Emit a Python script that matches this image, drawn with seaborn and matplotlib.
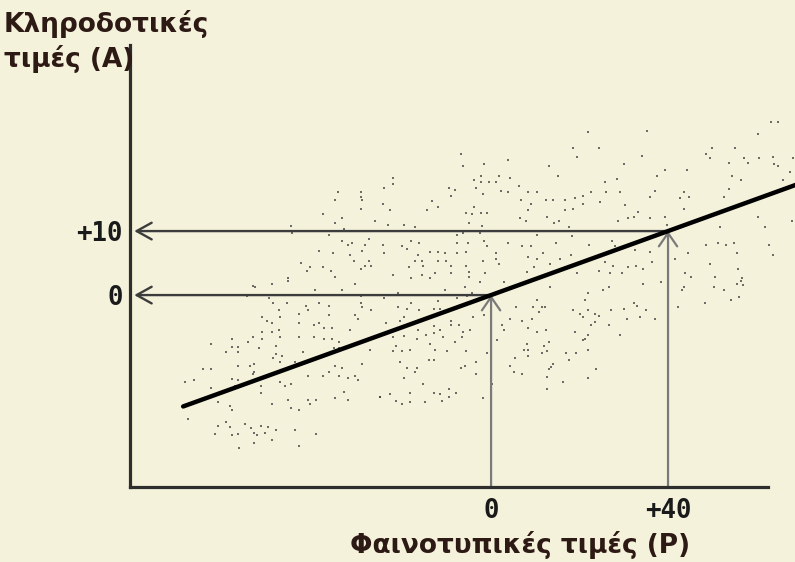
import matplotlib
matplotlib.use("Agg")
import matplotlib.pyplot as plt
import seaborn as sns
import pandas as pd

# Individuals: phenotypic value P, breeding (additive) value A
upper_left = [
    (-34.7, 16.1), (-29.5, 16.1), (-29.5, 15.4), (-35.3, 14.9), (-29.1, 14.8),
    (-29.5, 13.5), (-38.0, 12.6), (-33.8, 12.1), (-35.3, 11.3), (-26.2, 11.6),
    (-45.2, 10.8), (-44.9, 9.7), (-33.3, 10.3), (-36.6, 9.4), (-33.8, 8.4),
    (-32.4, 7.9), (-31.5, 8.1), (-27.6, 8.8), (-28.6, 7.9), (-39.0, 6.9),
    (-35.7, 6.5), (-31.9, 6.3), (-29.1, 6.9), (-30.9, 5.4), (-27.6, 5.4),
    (-28.6, 4.6), (-27.2, 4.6), (-42.9, 5.0), (-41.0, 4.4), (-38.0, 4.4),
    (-41.5, 3.7), (-36.2, 3.7), (-29.5, 4.1), (-35.3, 2.9), (-45.8, 2.6),
]
upper_middle = [
    (18.6, 23.0), (19.5, 21.6), (-6.7, 22.0), (-6.3, 20.1), (-1.5, 20.5),
    (3.8, 21.1), (-22.1, 18.3), (-22.1, 17.3), (-24.2, 16.8), (-24.5, 14.2),
    (-22.8, 13.3), (-3.8, 18.0), (-2.3, 18.6), (-2.3, 17.7), (-0.5, 17.7),
    (1.1, 17.7), (1.9, 18.6), (4.3, 18.3), (-3.4, 16.7), (-9.6, 16.7),
    (-8.1, 16.4), (-9.0, 15.5), (-1.9, 15.8), (2.3, 16.3), (3.8, 16.1),
    (6.4, 17.0), (8.4, 16.1), (10.3, 16.1), (13.2, 20.1), (15.2, 18.6),
    (-13.4, 14.7), (-11.9, 13.8), (-14.4, 13.3), (-3.8, 13.8), (-5.6, 12.9),
    (-4.3, 12.6), (-2.3, 12.9), (-1.0, 12.9), (-5.1, 11.3), (-2.0, 10.8),
    (6.8, 14.8), (9.0, 14.2), (8.4, 13.3), (12.4, 14.8), (14.1, 14.8),
    (16.7, 14.8), (19.0, 15.1), (20.7, 15.5), (20.7, 14.2), (18.5, 13.5),
    (16.7, 13.3), (12.6, 12.2), (6.6, 12.0), (7.9, 11.6), (14.2, 11.3),
    (15.4, 11.6), (17.6, 10.7), (-23.3, 10.9), (-19.7, 10.9), (-17.2, 10.7),
    (-6.3, 9.7), (-2.5, 9.7), (-7.6, 9.4), (10.3, 9.4), (18.2, 9.2),
    (-24.5, 7.9), (-18.2, 8.4), (-16.2, 8.2), (-20.1, 7.6), (-19.1, 7.2),
    (-24.3, 6.5), (-7.6, 8.2), (-5.3, 8.2), (-1.6, 8.4), (-1.0, 7.6),
    (3.8, 8.2), (6.9, 7.6), (9.0, 7.7), (14.7, 8.2), (-13.8, 6.8),
    (-11.9, 6.8), (-10.4, 6.5), (-16.6, 6.3), (-7.6, 6.5), (-5.6, 6.8),
    (1.1, 6.5), (-17.2, 5.4), (-15.6, 5.4), (-11.9, 5.4), (-10.2, 5.4),
    (-18.6, 4.4), (-15.3, 4.6), (-9.0, 4.6), (-5.6, 4.6), (-1.9, 5.4),
    (1.1, 5.6), (1.9, 4.9), (8.4, 6.0), (11.8, 6.5), (10.4, 5.6),
    (13.3, 4.9), (15.6, 5.6), (18.1, 6.3), (9.6, 4.4), (8.2, 3.6),
    (-22.1, 3.1), (-18.2, 2.6), (-15.6, 3.1), (-13.8, 2.6), (-12.6, 3.4),
    (-9.0, 3.4), (-5.0, 3.6), (-5.0, 2.9), (-1.3, 3.4), (19.4, 3.4),
]
upper_right = [
    (21.8, 25.5), (24.3, 23.0), (35.2, 25.7), (63.3, 27.0), (64.8, 27.0),
    (60.4, 25.2), (49.9, 23.0), (55.1, 23.0), (48.5, 22.0), (49.5, 21.4),
    (34.1, 21.7), (30.1, 20.5), (39.3, 19.6), (44.2, 19.6), (53.8, 20.7),
    (57.1, 21.4), (58.0, 20.7), (60.6, 21.4), (63.8, 21.6), (64.0, 20.5),
    (64.8, 20.1), (68.3, 21.4), (67.6, 19.2), (37.5, 18.6), (28.5, 18.2),
    (25.8, 17.7), (56.6, 18.0), (54.5, 18.6), (66.1, 18.0), (22.7, 16.1),
    (25.9, 16.1), (29.1, 16.1), (37.1, 16.3), (43.7, 16.1), (35.9, 15.4),
    (42.7, 15.1), (44.7, 15.4), (53.8, 16.6), (52.7, 15.4), (24.6, 14.5),
    (30.3, 14.1), (43.5, 13.5), (33.3, 13.0), (32.4, 12.2), (30.9, 12.0),
    (35.9, 12.0), (28.6, 11.6), (39.3, 12.2), (39.8, 10.9), (60.4, 12.2),
    (61.9, 10.7), (68.1, 11.6), (51.7, 10.7), (22.1, 7.8), (27.3, 8.4),
    (28.0, 7.6), (32.5, 7.1), (35.9, 6.8), (44.6, 6.5), (48.5, 7.9),
    (51.4, 8.2), (53.2, 7.9), (54.8, 8.2), (55.7, 6.5), (62.8, 7.9),
    (63.8, 6.3), (24.3, 6.0), (25.7, 5.1), (27.6, 4.6), (31.0, 4.4),
    (32.8, 4.6), (36.3, 5.2), (34.4, 4.0), (41.6, 5.7), (49.5, 4.9),
    (43.8, 3.4), (24.3, 3.8), (26.9, 3.4), (29.5, 3.4), (45.3, 2.9),
    (50.6, 2.9), (55.9, 4.1), (56.7, 2.6),
]
lower_left = [
    (-53.9, 1.4), (-53.3, 1.2), (-49.6, 1.8), (-45.8, 2.2), (-30.7, 1.8),
    (-39.9, 0.8), (-33.7, 0.8), (-55.2, -0.2), (-50.1, -0.5), (-49.2, -1.3),
    (-46.2, -1.2), (-41.9, -1.7), (-39.0, -1.2), (-36.6, -1.7), (-29.5, -0.2),
    (-29.4, -1.2), (-29.1, -1.8), (-27.1, -2.4), (-41.4, -2.4), (-48.0, -2.4),
    (-43.4, -2.9), (-36.6, -3.1), (-30.7, -3.1), (-30.0, -3.8), (-51.7, -3.5),
    (-50.6, -4.1), (-49.6, -4.3), (-47.6, -3.5), (-43.4, -4.4), (-40.0, -4.7),
    (-39.0, -4.3), (-37.7, -5.1), (-35.9, -5.1), (-31.9, -5.4), (-51.7, -5.7),
    (-49.6, -5.7), (-47.9, -5.4), (-53.9, -6.5), (-51.7, -6.9), (-54.9, -7.3),
    (-47.6, -6.5), (-43.4, -6.5), (-40.0, -6.5), (-37.7, -6.9), (-35.9, -6.9),
    (-34.4, -7.3), (-58.5, -6.9), (-63.3, -7.6), (-58.5, -8.1), (-57.1, -8.1),
    (-57.1, -8.9), (-60.0, -8.9), (-52.4, -8.2), (-48.6, -7.9), (-48.6, -9.2),
    (-35.6, -8.3), (-34.4, -8.3), (-42.5, -8.9), (-49.4, -9.8), (-47.3, -9.5),
    (-47.7, -10.4), (-44.3, -10.4), (-27.3, -8.6), (-53.6, -10.7), (-54.4, -11.1),
    (-57.1, -11.1), (-53.6, -12.0), (-53.9, -12.3), (-65.2, -11.6), (-63.3, -11.6),
    (-69.2, -13.6), (-67.2, -13.2), (-58.5, -13.1), (-57.1, -13.2), (-36.6, -12.0),
    (-35.2, -11.1), (-33.7, -11.4), (-34.4, -12.7), (-32.4, -12.9), (-30.7, -12.7),
    (-30.0, -13.3), (-29.1, -10.7), (-41.4, -12.7), (-38.0, -12.7), (-52.0, -14.2),
    (-47.7, -13.6), (-46.5, -14.2), (-45.2, -13.9), (-63.3, -14.5), (-57.8, -14.2),
    (-51.9, -15.3), (-33.2, -15.2), (-35.2, -16.1), (-32.3, -16.4), (-25.2, -15.9),
    (-61.8, -16.7), (-49.6, -17.0), (-45.8, -16.4), (-41.4, -16.4), (-39.6, -16.4),
    (-40.9, -17.0), (-59.0, -17.3), (-58.6, -18.0), (-45.2, -17.7), (-43.4, -18.0),
    (-68.6, -19.4), (-60.0, -19.8), (-61.8, -20.5), (-59.0, -20.6), (-55.6, -20.2),
    (-54.3, -20.8), (-52.0, -20.5), (-50.5, -20.6), (-48.6, -21.1), (-44.4, -21.1),
    (-53.5, -21.5), (-51.2, -21.5), (-52.9, -21.9), (-62.4, -21.7), (-58.6, -21.9),
    (-57.1, -21.7), (-39.6, -21.7), (-49.6, -22.7), (-53.6, -23.1), (-43.4, -23.6),
    (-56.9, -23.9),
]
lower_middle = [
    (-24.2, -0.5), (-21.0, 0.3), (-18.0, -1.2), (-11.9, -0.9), (-7.6, -0.5),
    (-5.5, -0.2), (-4.3, 0.3), (-10.4, 0.8), (-5.8, 1.2), (-2.5, 2.1),
    (2.9, 2.1), (13.3, 1.2), (10.3, -0.7), (-21.0, -1.8), (-19.0, -2.2),
    (-16.2, -2.4), (-13.0, -2.2), (-11.5, -2.2), (5.6, -1.8), (9.4, -1.8),
    (11.4, -1.8), (12.2, -1.8), (10.9, -2.6), (-4.0, -3.5), (-1.6, -3.1),
    (4.3, -3.8), (7.0, -4.1), (9.2, -3.8), (-23.7, -4.4), (-20.5, -4.1),
    (-19.6, -3.4), (-18.1, -4.4), (-16.6, -5.5), (-13.0, -4.9), (-11.5, -5.5),
    (-9.0, -4.1), (-9.0, -4.7), (-7.2, -4.7), (-6.3, -5.7), (-4.7, -5.5),
    (2.5, -4.7), (3.0, -5.5), (8.4, -5.1), (10.3, -5.7), (12.4, -5.4),
    (18.6, -2.4), (20.0, -2.9), (20.7, -3.5), (19.0, -5.7), (20.7, -7.0),
    (-22.1, -6.5), (-19.6, -6.4), (-16.8, -6.9), (-14.6, -6.3), (-13.0, -6.0),
    (-10.9, -6.6), (-8.2, -7.4), (-6.5, -6.5), (1.3, -7.0), (8.1, -7.6),
    (12.0, -8.0), (13.0, -7.3), (-21.6, -7.9), (-22.1, -8.8), (-20.1, -8.8),
    (-18.4, -8.6), (-13.7, -7.6), (-12.6, -8.6), (-9.9, -8.7), (-5.6, -8.8),
    (-1.0, -9.1), (7.5, -8.6), (8.4, -8.6), (8.4, -9.5), (11.4, -9.1),
    (12.6, -8.8), (16.9, -9.1), (19.3, -9.1), (17.6, -10.2), (-20.5, -10.4),
    (-14.1, -10.2), (-13.0, -10.2), (-3.4, -10.4), (5.3, -9.9), (4.3, -11.1),
    (5.2, -12.0), (6.9, -12.3), (14.1, -10.7), (13.6, -11.2), (13.2, -11.5),
    (-19.0, -11.4), (-16.8, -11.4), (-17.2, -12.0), (-6.8, -11.4), (-6.0, -11.1),
    (-3.5, -12.3), (-19.6, -13.0), (12.7, -12.8), (-15.3, -13.9), (0.2, -13.9),
    (16.2, -13.6), (12.7, -14.6), (-9.6, -14.6), (-25.1, -15.9), (-22.8, -15.5),
    (-18.4, -15.3), (-12.8, -15.3), (-11.5, -15.5), (-9.6, -15.9), (-8.0, -15.3),
    (-21.5, -16.5), (-20.1, -17.0), (-18.3, -16.7), (-14.9, -16.7), (-11.1, -16.5),
    (-1.9, -16.1),
]
lower_right = [
    (21.8, 0.4), (25.2, 0.8), (26.7, 1.2), (34.4, 1.8), (38.4, 2.1),
    (21.2, -0.7), (21.8, -2.4), (23.4, -2.9), (24.3, -3.3), (27.1, -2.4),
    (30.1, -2.2), (32.4, -1.3), (32.9, -1.7), (35.1, -2.4), (30.7, -3.7),
    (33.7, -3.5), (37.1, -3.7), (23.4, -4.2), (22.7, -4.7), (26.7, -4.7),
    (21.8, -6.3), (29.1, -6.3), (21.2, -6.9), (21.8, -8.6), (23.8, -11.6),
    (21.8, -12.9), (43.6, 1.2), (43.2, 0.8), (42.3, -1.8), (50.3, 1.2),
    (52.7, 0.8), (54.2, -0.7), (56.0, -0.3), (55.7, 1.8), (57.0, 1.5),
    (56.6, 2.2), (48.3, -1.2),
]

# Fitted regression of A on P (slope 0.25)
reg_p = [-69.6, 70.0]
reg_a = [-17.4, 17.5]

# Reference points
ref_p = [0, 40]
ref_a = [0, 10]
x_tick_labels = ["0", "+40"]
y_tick_labels = ["0", "+10"]

points = pd.DataFrame(
    upper_left + upper_middle + upper_right + lower_left + lower_middle + lower_right,
    columns=["P", "A"],
)
line = pd.DataFrame({"P": reg_p, "A": reg_a})

BG = "#f5f2dc"
INK = "#2d1a14"
sns.set_theme(style="white")

fig = plt.figure(figsize=(7.95, 5.62), dpi=100, facecolor=BG)
ax = fig.add_axes([0, 0, 1, 1])
ax.set_facecolor(BG)
ax.set_xlim(-111.0, 68.7)
ax.set_ylim(-41.7, 46.1)

x_axis_at, y_axis_at = -81.6, -30.0

sns.scatterplot(data=points, x="P", y="A", ax=ax, marker="s", s=4.5,
                color="#404040", alpha=0.75, linewidth=0, zorder=2)

# Guide arrows: horizontal ones point to the A axis, vertical ones up to the line
for p, a in zip(ref_p, ref_a):
    ax.annotate("", xy=(x_axis_at, a), xytext=(p, a),
                arrowprops=dict(arrowstyle="->,head_length=0.9,head_width=0.5",
                                color="#3c3c3c", lw=1.7, shrinkA=0, shrinkB=3),
                zorder=3)
    ax.annotate("", xy=(p, a), xytext=(p, y_axis_at),
                arrowprops=dict(arrowstyle="->,head_length=0.8,head_width=0.55",
                                color="#7a7a7a", lw=1.6, shrinkA=0, shrinkB=0),
                zorder=3)

sns.lineplot(data=line, x="P", y="A", ax=ax, color="black", lw=3.2,
             zorder=4, legend=False)

# Axes drawn as spines crossing at the chosen origin
for side in ("top", "right"):
    ax.spines[side].set_visible(False)
ax.spines["left"].set_position(("data", x_axis_at))
ax.spines["bottom"].set_position(("data", y_axis_at))
ax.spines["left"].set_bounds(y_axis_at, 39.1)
ax.spines["bottom"].set_bounds(x_axis_at, 62.6)
for side in ("left", "bottom"):
    ax.spines[side].set_color("#2e2e2e")
    ax.spines[side].set_linewidth(2.3)
    ax.spines[side].set_zorder(5)

ax.set_xticks(ref_p, x_tick_labels)
ax.set_yticks(ref_a, y_tick_labels)
ax.tick_params(axis="both", length=0, colors="#1a1a1a")
ax.tick_params(axis="y", pad=5)
ax.tick_params(axis="x", pad=8)
for lab in ax.get_xticklabels() + ax.get_yticklabels():
    lab.set_fontfamily("DejaVu Sans Mono")
    lab.set_fontweight("bold")
    lab.set_fontsize(18.5)
ax.set_xlabel("")
ax.set_ylabel("")

fig.text(4 / 795, 1 - 10 / 562, "Κληροδοτικές\nτιμές (A)", ha="left", va="top",
         fontsize=19, fontweight="bold", color=INK, family="DejaVu Sans",
         linespacing=1.3)
fig.text(520 / 795, 1 - 545 / 562, "Φαινοτυπικές τιμές (P)", ha="center",
         va="center", fontsize=19, fontweight="bold", color=INK,
         family="DejaVu Sans")

fig.savefig("out.png", dpi=100, facecolor=BG)
